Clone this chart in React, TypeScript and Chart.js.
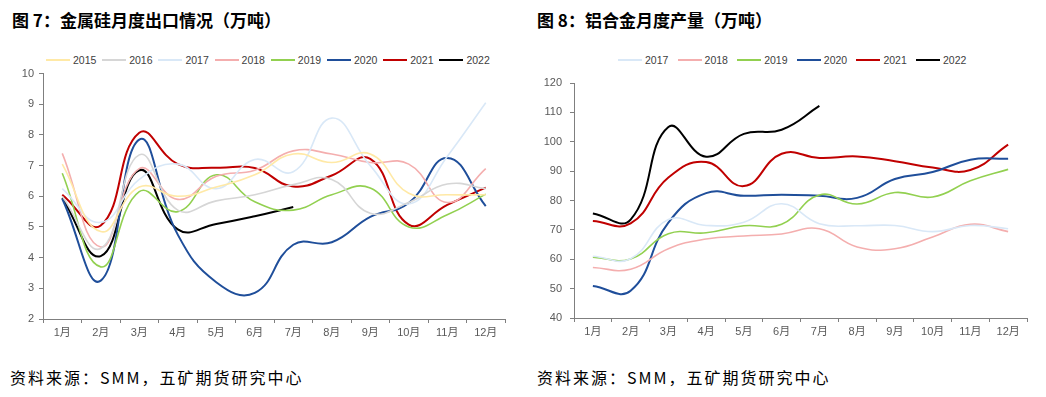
import React, { useEffect, useRef } from 'react';
import { Chart, registerables } from 'chart.js';
Chart.register(...registerables);

const months = ['1月', '2月', '3月', '4月', '5月', '6月', '7月', '8月', '9月', '10月', '11月', '12月'];

// 图7 金属硅月度出口（万吨）
const siYears = ['2015', '2016', '2017', '2018', '2019', '2020', '2021', '2022'];
const si2015 = [7.05, 4.85, 6.3, 6.0, 6.3, 6.7, 7.38, 7.1, 7.38, 6.1, 6.05, 6.05];
const si2016 = [6.0, 4.3, 7.35, 5.55, 5.85, 6.05, 6.38, 6.55, 5.45, 5.8, 6.4, 6.25];
const si2017 = [6.25, 5.15, 6.55, 7.05, 6.25, 7.2, 6.8, 8.55, 7.0, 5.75, 7.3, 9.05];
const si2018 = [7.4, 4.35, 6.9, 5.9, 6.65, 6.85, 7.48, 7.38, 7.1, 7.05, 5.8, 6.9];
const si2019 = [6.75, 3.7, 6.15, 5.5, 6.7, 5.82, 5.55, 6.05, 6.27, 5.0, 5.4, 6.07];
const si2020 = [5.92, 3.25, 7.85, 4.75, 3.2, 2.85, 4.42, 4.5, 5.33, 5.78, 7.25, 5.68];
const si2021 = [6.05, 5.05, 8.07, 7.05, 6.93, 6.92, 6.32, 6.68, 7.22, 5.08, 5.72, 6.28];
const si2022 = [5.95, 4.05, 6.85, 4.92, 5.1, 5.35, 5.65];
const siValues = [si2015, si2016, si2017, si2018, si2019, si2020, si2021, si2022];
const siTicks = [2, 10, 1];

// 图8 铝合金月度产量（万吨）
const alYears = ['2017', '2018', '2019', '2020', '2021', '2022'];
const al2017 = [61.0, 60.2, 73.5, 71.5, 72.6, 78.9, 72.1, 71.4, 71.5, 69.4, 71.5, 70.4];
const al2018 = [57.2, 56.6, 63.6, 66.9, 67.9, 68.6, 70.4, 64.2, 63.6, 67.6, 71.9, 69.4];
const al2019 = [60.7, 60.1, 68.7, 69.0, 71.4, 71.9, 81.9, 78.8, 82.7, 81.2, 86.7, 90.6];
const al2020 = [50.9, 49.3, 72.5, 82.5, 81.6, 82.0, 81.6, 80.9, 87.3, 89.7, 93.9, 94.2];
const al2021 = [73.0, 72.2, 87.8, 93.1, 84.9, 95.9, 94.5, 95.0, 93.4, 91.2, 90.4, 99.0];
const al2022 = [75.6, 73.5, 105.0, 94.9, 102.7, 104.1, 112.2];
const alValues = [al2017, al2018, al2019, al2020, al2021, al2022];
const alTicks = [40, 120, 10];

const colorByYear: Record<string, string> = {
  '2015': '#FFE9A6',
  '2016': '#D6D6D6',
  '2017': '#D9E8F7',
  '2018': '#F4AEAE',
  '2019': '#92D050',
  '2020': '#1F4E9A',
  '2021': '#C00000',
  '2022': '#000000',
};
const widthByYear: Record<string, number> = {
  '2015': 1.6, '2016': 1.6, '2017': 1.6, '2018': 1.6, '2019': 1.6, '2020': 2, '2021': 2, '2022': 2,
};

const TICK_FONT = { family: '"Liberation Sans", "Noto Sans CJK SC", sans-serif', size: 11 };

type Cfg = {
  years: string[];
  values: number[][];
  ticks: number[];
  yWidth: number;
  xHeight: number;
  padTop: number;
  padRight: number;
  w: number;
  h: number;
  yPad: number;
};

function LineChart({ cfg }: { cfg: Cfg }) {
  const ref = useRef<HTMLCanvasElement | null>(null);
  useEffect(() => {
    if (!ref.current) return;
    const chart = new Chart(ref.current, {
      type: 'line',
      data: {
        labels: months,
        datasets: cfg.years.map((y, i) => ({
          label: y,
          data: cfg.values[i],
          borderColor: colorByYear[y],
          backgroundColor: colorByYear[y],
          borderWidth: widthByYear[y],
          pointRadius: 0,
          tension: 0.45,
          fill: false,
        })),
      },
      options: {
        responsive: false,
        animation: false,
        layout: { padding: { top: cfg.padTop, right: cfg.padRight, left: 0, bottom: 0 } },
        plugins: { legend: { display: false }, tooltip: { enabled: false } },
        scales: {
          x: {
            offset: true,
            afterFit: (s: any) => { s.height = cfg.xHeight; },
            grid: { offset: true, drawOnChartArea: false, drawTicks: true, tickLength: 4, color: '#7F7F7F' },
            border: { color: '#7F7F7F', width: 1 },
            ticks: { color: '#595959', font: TICK_FONT, padding: 3, maxRotation: 0, autoSkip: false },
          },
          y: {
            min: cfg.ticks[0],
            max: cfg.ticks[1],
            afterFit: (s: any) => { s.width = cfg.yWidth; },
            grid: { drawOnChartArea: false, drawTicks: true, tickLength: 4, color: '#7F7F7F' },
            border: { color: '#7F7F7F', width: 1 },
            ticks: { stepSize: cfg.ticks[2], color: '#595959', font: TICK_FONT, padding: cfg.yPad },
          },
        },
      },
    });
    return () => chart.destroy();
  }, []);
  return <canvas ref={ref} width={cfg.w} height={cfg.h} style={{ display: 'block' }} />;
}

function Legend({ years, left, step }: { years: string[]; left: number; step: number }) {
  return (
    <div style={{ position: 'absolute', left, top: 53, height: 14 }}>
      {years.map((y, i) => (
        <div key={y} style={{ position: 'absolute', left: i * step, top: 0, display: 'flex', alignItems: 'center', height: 14, whiteSpace: 'nowrap' }}>
          <span style={{ display: 'inline-block', width: 24, height: 2, background: colorByYear[y], marginRight: 3 }} />
          <span style={{ fontFamily: '"Liberation Sans", sans-serif', fontSize: 10.5, color: '#404040', lineHeight: '14px' }}>{y}</span>
        </div>
      ))}
    </div>
  );
}

const titleStyle: React.CSSProperties = {
  position: 'absolute',
  top: 8,
  fontFamily: '"Noto Sans CJK SC", sans-serif',
  fontWeight: 700,
  fontSize: 17,
  lineHeight: '24px',
  color: '#000',
  whiteSpace: 'nowrap',
};
const srcStyle: React.CSSProperties = {
  position: 'absolute',
  top: 366,
  fontFamily: '"Noto Sans CJK SC", sans-serif',
  fontSize: 16,
  letterSpacing: 2,
  lineHeight: '22px',
  color: '#000',
  whiteSpace: 'nowrap',
};

export default function App() {
  const leftCfg: Cfg = {
    years: siYears, values: siValues, ticks: siTicks,
    yWidth: 43, xHeight: 26, padTop: 10, padRight: 15, w: 520, h: 283, yPad: 5,
  };
  const rightCfg: Cfg = {
    years: alYears, values: alValues, ticks: alTicks,
    yWidth: 54, xHeight: 27, padTop: 21, padRight: 19, w: 526, h: 283, yPad: 8,
  };
  return (
    <div style={{ position: 'absolute', left: 0, top: 0, width: 1046, height: 397, background: '#fff', overflow: 'hidden' }}>
      <div style={{ ...titleStyle, left: 12 }}>图 7：金属硅月度出口情况（万吨）</div>
      <div style={{ ...titleStyle, left: 537 }}>图 8：铝合金月度产量（万吨）</div>
      <Legend years={siYears} left={46} step={56.2} />
      <Legend years={alYears} left={618} step={59.6} />
      <div style={{ position: 'absolute', left: 0, top: 62 }}>
        <LineChart cfg={leftCfg} />
      </div>
      <div style={{ position: 'absolute', left: 520, top: 62 }}>
        <LineChart cfg={rightCfg} />
      </div>
      <div style={{ ...srcStyle, left: 10 }}>资料来源：SMM，五矿期货研究中心</div>
      <div style={{ ...srcStyle, left: 537 }}>资料来源：SMM，五矿期货研究中心</div>
    </div>
  );
}
